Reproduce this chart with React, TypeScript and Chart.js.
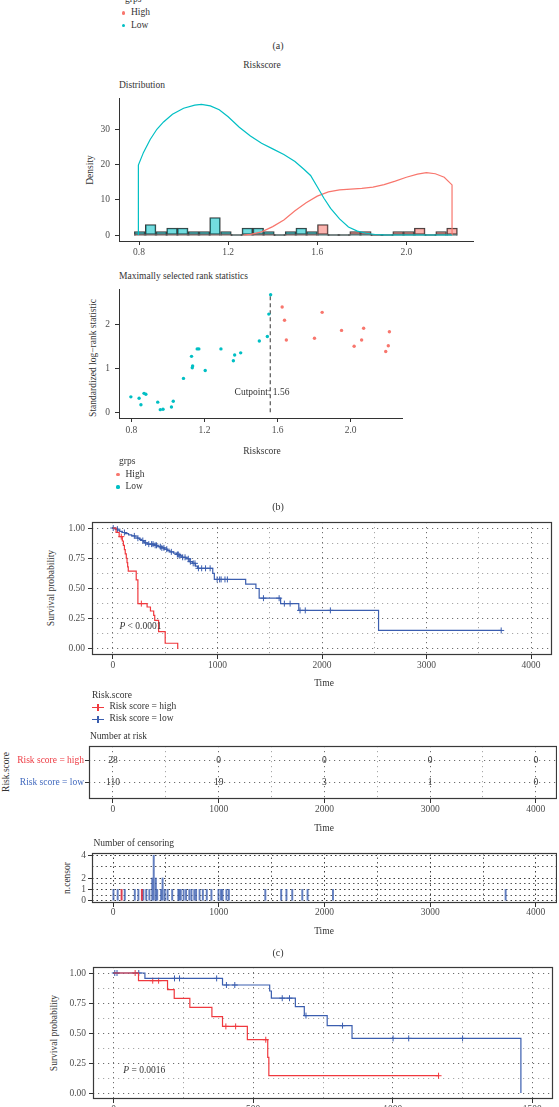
import React, { useEffect, useRef } from "react";
import { Chart, registerables } from "chart.js";

Chart.register(...registerables);

const FONT = "'Liberation Serif', 'DejaVu Serif', 'Times New Roman', serif";
const TICK = "#4d4d4d";
const INK = "#333333";
const CYAN = "#00BFC4";
const SALMON = "#F8766D";
const KM_RED = "#F0393E";
const KM_BLUE = "#3B5EAF";
const LBL_RED = "#EE3B43";
const LBL_BLUE = "#4169BE";

// ---------- (a) Distribution ----------
const binCenters = [0.803, 0.852, 0.900, 0.948, 0.996, 1.045, 1.093, 1.141, 1.190, 1.238, 1.286, 1.335, 1.383, 1.431, 1.480, 1.528, 1.576, 1.625, 1.673, 1.721, 1.770, 1.818, 1.866, 1.915, 1.963, 2.011, 2.060, 2.108, 2.156, 2.205];
const lowCounts = [1, 3, 1, 2, 2, 1, 1, 5, 1, 0, 2, 2, 1, 0, 1, 2, 1, 0, 0, 0, 0, 0, 0, 0, 0, 0, 0, 0, 0, 0];
const highCounts = [0, 0, 0, 0, 0, 0, 0, 0, 0, 0, 0, 0, 0, 0, 0, 0, 0, 3, 0, 0, 1, 1, 0, 0, 1, 1, 2, 0, 1, 2];
const lowDensX = [0.797, 0.797, 0.82, 0.85, 0.88, 0.91, 0.95, 1.0, 1.05, 1.08, 1.12, 1.16, 1.2, 1.25, 1.3, 1.35, 1.4, 1.45, 1.5, 1.54, 1.57, 1.6, 1.63, 1.66, 1.7, 1.74, 1.78, 1.82, 1.86, 1.9, 1.95, 2.205];
const lowDensY = [0, 20, 23.6, 27.3, 30.2, 32.3, 34.5, 36.2, 37.1, 37.3, 36.9, 35.8, 33.8, 30.8, 28.3, 26.2, 24.6, 23.0, 21.0, 18.8, 17.0, 13.8, 10.5, 7.6, 4.6, 2.3, 1.1, 0.5, 0.15, 0.03, 0, 0];
const highDensX = [1.27, 1.3, 1.35, 1.4, 1.45, 1.5, 1.55, 1.6, 1.65, 1.7, 1.75, 1.8, 1.85, 1.9, 1.95, 2.0, 2.05, 2.09, 2.13, 2.17, 2.205, 2.205];
const highDensY = [0, 0.2, 0.9, 2.4, 4.3, 6.9, 9.2, 11.1, 12.3, 12.9, 13.1, 13.3, 13.7, 14.4, 15.4, 16.5, 17.4, 17.8, 17.5, 16.5, 14.3, 0];
const distXTicks = [0.8, 1.2, 1.6, 2.0];
const distYTicks = [0, 10, 20, 30];

// ---------- (b) Maximally selected rank statistics ----------
const lowScore = [0.797, 0.842, 0.852, 0.869, 0.879, 0.944, 0.958, 0.973, 1.019, 1.029, 1.085, 1.129, 1.133, 1.135, 1.16, 1.169, 1.204, 1.29, 1.358, 1.365, 1.398, 1.5, 1.544, 1.552, 1.562];
const lowStat = [0.35, 0.32, 0.17, 0.43, 0.41, 0.23, 0.06, 0.07, 0.12, 0.25, 0.77, 1.27, 1.01, 1.05, 1.44, 1.44, 0.95, 1.44, 1.17, 1.3, 1.35, 1.62, 1.72, 2.23, 2.67];
const highScore = [1.625, 1.638, 1.648, 1.802, 1.844, 1.95, 2.019, 2.06, 2.071, 2.192, 2.206, 2.212];
const highStat = [2.39, 2.09, 1.64, 1.68, 2.27, 1.86, 1.5, 1.64, 1.91, 1.38, 1.51, 1.83];
const cutpoint = 1.56;
const rankXTicks = [0.8, 1.2, 1.6, 2.0];
const rankYTicks = [0, 1, 2];

// ---------- (c) Kaplan-Meier, training ----------
const highTimes = [0, 30, 60, 90, 100, 110, 118, 128, 135, 141, 147, 223, 239, 327, 359, 390, 400, 437, 500, 620];
const highSurv = [1, 0.964, 0.929, 0.893, 0.857, 0.821, 0.786, 0.75, 0.714, 0.679, 0.643, 0.571, 0.375, 0.347, 0.314, 0.278, 0.236, 0.144, 0.047, 0];
const highEnd = 620;
const lowTimes = [0, 25, 45, 65, 90, 120, 150, 180, 210, 235, 255, 275, 290, 300, 330, 400, 430, 460, 490, 520, 545, 580, 610, 640, 660, 700, 730, 760, 790, 810, 955, 970, 1270, 1368, 1399, 1604, 1778, 2541];
const lowSurv = [1, 0.991, 0.982, 0.972, 0.963, 0.954, 0.944, 0.935, 0.926, 0.916, 0.907, 0.897, 0.887, 0.877, 0.867, 0.857, 0.846, 0.836, 0.825, 0.814, 0.803, 0.792, 0.781, 0.77, 0.758, 0.746, 0.722, 0.708, 0.685, 0.667, 0.625, 0.575, 0.536, 0.5, 0.42, 0.375, 0.319, 0.153];
const lowEnd = 3714;
const highCensorT = [80, 272];
const highCensorN = [1, 1];
const lowCensorT = [3, 43, 110, 205, 239, 286, 313, 343, 370, 384, 404, 417, 454, 468, 488, 515, 559, 617, 626, 640, 667, 690, 721, 741, 768, 785, 818, 849, 886, 930, 997, 1021, 1035, 1072, 1095, 1440, 1590, 1640, 1695, 1790, 1840, 2080, 3714];
const lowCensorN = [1, 1, 1, 1, 1, 1, 1, 1, 2, 4, 2, 1, 1, 2, 1, 1, 1, 1, 1, 1, 1, 1, 1, 1, 1, 1, 1, 1, 1, 1, 1, 1, 1, 1, 1, 1, 1, 1, 1, 1, 1, 1, 1];
const kmTimeTicks = [0, 500, 1000, 1500, 2000, 2500, 3000, 3500, 4000];
const kmSurvTicks = [0, 0.125, 0.25, 0.375, 0.5, 0.625, 0.75, 0.875, 1];
const riskTimes = [0, 1000, 2000, 3000, 4000];
const riskHigh = [28, 0, 0, 0, 0];
const riskLow = [110, 19, 3, 1, 0];
const censorYTicks = [0, 0.5, 1, 1.5, 2, 3, 4];
const censorYLabels = [0, 1, 2, 4];

// ---------- (d) Kaplan-Meier, validation ----------
const highTimesC = [0, 89, 193, 217, 273, 352, 390, 479, 552, 556];
const highSurvC = [1, 0.936, 0.861, 0.789, 0.714, 0.637, 0.555, 0.444, 0.297, 0.144];
const highEndC = 1164;
const highCensorC = [77, 140, 161, 402, 437, 545, 1164];
const lowTimesC = [0, 112, 390, 559, 565, 651, 683, 765, 854, 1459];
const lowSurvC = [1, 0.955, 0.9, 0.85, 0.79, 0.72, 0.645, 0.561, 0.455, 0];
const lowEndC = 1459;
const lowCensorC = [4, 12, 90, 218, 236, 369, 404, 434, 604, 630, 689, 820, 1001, 1057, 1250];
const kmTimeTicksC = [0, 250, 500, 750, 1000, 1250, 1500];

// ---------- helpers ----------
const zip = (xs: number[], ys: number[]) => xs.map((x, i) => ({ x, y: ys[i] }));
const survAt = (times: number[], surv: number[], t: number) => {
  let s = surv[0];
  for (let i = 0; i < times.length; i++) if (times[i] <= t) s = surv[i];
  return s;
};
const kmPoints = (times: number[], surv: number[], end: number) => {
  const pts = zip(times, surv);
  if (end > times[times.length - 1]) pts.push({ x: end, y: surv[surv.length - 1] });
  return pts;
};
const censorPoints = (ct: number[], times: number[], surv: number[]) => ct.map((t) => ({ x: t, y: survAt(times, surv, t) }));
const setTicks = (vals: number[]) => (scale: any) => {
  scale.ticks = vals.map((v) => ({ value: v }));
};
const fix = (size: number) => (scale: any) => {
  if (scale.isHorizontal()) scale.height = size;
  else scale.width = size;
  scale.paddingLeft = 0;
  scale.paddingRight = 0;
  scale.paddingTop = 0;
  scale.paddingBottom = 0;
};
const tickFont = { family: FONT, size: 9.5 };
const near = (a: number, b: number) => Math.abs(a - b) < 1e-6;
const isMult = (v: number, step: number) => near(v / step, Math.round(v / step));

const baseOptions = (scales: any) => ({
  responsive: false,
  animation: false,
  devicePixelRatio: 1,
  events: [],
  layout: { padding: { top: 8, right: 0, bottom: 0, left: 0 } },
  plugins: { legend: { display: false }, tooltip: { enabled: false }, title: { display: false } },
  scales,
});

const boxPlugin = {
  id: "panelBox",
  afterDraw(chart: any) {
    const { left, top, right, bottom } = chart.chartArea;
    const ctx = chart.ctx;
    ctx.save();
    ctx.strokeStyle = "#3a3a3a";
    ctx.lineWidth = 1.2;
    ctx.strokeRect(left + 0.5, top + 0.5, right - left - 1, bottom - top - 1);
    ctx.restore();
  },
};

const riskTextPlugin = {
  id: "riskText",
  afterDatasetsDraw(chart: any) {
    const ctx = chart.ctx;
    ctx.save();
    ctx.font = `9.5px ${FONT}`;
    ctx.fillStyle = "#333";
    ctx.textAlign = "center";
    ctx.textBaseline = "middle";
    chart.data.datasets.forEach((ds: any, di: number) => {
      const meta = chart.getDatasetMeta(di);
      meta.data.forEach((el: any, i: number) => {
        ctx.fillText(String(ds.numbers[i]), el.x, el.y);
      });
    });
    ctx.restore();
  },
};

// classic axis (left/bottom lines, no grid)
const classicAxis = (min: number, max: number, ticks: number[], fmt: (v: number) => string, size: number, pad: number) => ({
  type: "linear",
  min,
  max,
  offset: false,
  afterBuildTicks: setTicks(ticks),
  afterFit: fix(size),
  ticks: { callback: (v: number) => fmt(v), font: tickFont, color: TICK, padding: pad, maxRotation: 0, autoSkip: false },
  grid: { drawOnChartArea: false, drawTicks: true, tickLength: 4, tickColor: INK, color: INK, offset: false },
  border: { display: true, color: INK, width: 1 },
});

// dotted grid axis for survival panels
const dottedAxis = (
  min: number,
  max: number,
  ticks: number[],
  isMajor: (v: number) => boolean,
  fmt: (v: number) => string,
  size: number,
  pad: number,
  majorColor: string,
  minorColor: string,
  dash: number[]
) => ({
  type: "linear",
  min,
  max,
  offset: false,
  afterBuildTicks: setTicks(ticks),
  afterFit: fix(size),
  ticks: {
    callback: (v: number) => (isMajor(v) ? fmt(v) : ""),
    font: tickFont,
    color: TICK,
    padding: pad,
    maxRotation: 0,
    autoSkip: false,
  },
  grid: {
    drawOnChartArea: true,
    drawTicks: true,
    tickLength: 4,
    offset: false,
    lineWidth: 1,
    color: (c: any) => (c.tick && isMajor(c.tick.value) ? majorColor : minorColor),
    tickColor: (c: any) => (c.tick && isMajor(c.tick.value) ? INK : "rgba(0,0,0,0)"),
  },
  border: { display: false, dash },
});

function ChartCanvas({ left, top, width, height, make }: any) {
  const ref = useRef<HTMLCanvasElement>(null);
  useEffect(() => {
    const chart = new Chart(ref.current as HTMLCanvasElement, make());
    return () => chart.destroy();
  }, []);
  return <canvas ref={ref} width={width} height={height} style={{ position: "absolute", left, top, width, height }} />;
}

const Txt = ({ x, y, children, align = "left", size = 9.5, color = "#333", rotate = false, style = {} }: any) => {
  let transform = align === "center" ? "translate(-50%,-50%)" : align === "right" ? "translate(-100%,-50%)" : "translate(0,-50%)";
  if (rotate) transform = "translate(-50%,-50%) rotate(-90deg)";
  return (
    <div style={{ position: "absolute", left: x, top: y, transform, fontSize: size, lineHeight: 1, color, whiteSpace: "nowrap", ...style }}>
      {children}
    </div>
  );
};

const Dot = ({ x, y, color }: any) => (
  <div style={{ position: "absolute", left: x - 1.6, top: y - 1.6, width: 3.2, height: 3.2, borderRadius: "50%", background: color }} />
);

const KmKey = ({ x, y, color }: any) => (
  <div style={{ position: "absolute", left: x, top: y, width: 12, height: 0 }}>
    <div style={{ position: "absolute", left: 0, top: -0.6, width: 12, height: 1.2, background: color }} />
    <div style={{ position: "absolute", left: 5.4, top: -3.5, width: 1.2, height: 7, background: color }} />
  </div>
);

// ---------- chart factories ----------
const histBar = (counts: number[], fill: string) => ({
  type: "bar",
  data: zip(binCenters, counts),
  backgroundColor: fill,
  borderColor: "#3a3a3a",
  borderWidth: 1,
  borderSkipped: false,
  minBarLength: 1,
  barPercentage: 1,
  categoryPercentage: 1,
  grouped: false,
  order: 1,
});

const makeDistribution = () => ({
  type: "bar",
  data: {
    datasets: [
      { type: "line", data: zip(lowDensX, lowDensY), borderColor: CYAN, borderWidth: 1.2, pointRadius: 0, tension: 0, order: 0 },
      { type: "line", data: zip(highDensX, highDensY), borderColor: SALMON, borderWidth: 1.2, pointRadius: 0, tension: 0, order: 0 },
      histBar(lowCounts, "rgba(0,191,196,0.55)"),
      histBar(highCounts, "rgba(248,118,109,0.55)"),
    ],
  },
  options: baseOptions({
    x: classicAxis(0.71, 2.3036, distXTicks, (v) => v.toFixed(1), 24, 2),
    y: classicAxis(-1.714, 39.14, distYTicks, (v) => String(v), 40, 5),
  }),
});

const makeRank = () => ({
  type: "scatter",
  data: {
    datasets: [
      { data: zip(lowScore, lowStat), backgroundColor: CYAN, pointRadius: 1.7, pointBorderWidth: 0, borderWidth: 0 },
      { data: zip(highScore, highStat), backgroundColor: SALMON, pointRadius: 1.7, pointBorderWidth: 0, borderWidth: 0 },
      {
        type: "line",
        data: [
          { x: cutpoint, y: 0 },
          { x: cutpoint, y: Math.max(...lowStat, ...highStat) },
        ],
        borderColor: "#555",
        borderDash: [4, 3],
        borderWidth: 1.2,
        pointRadius: 0,
      },
    ],
  },
  options: baseOptions({
    x: classicAxis(0.732, 2.281, rankXTicks, (v) => v.toFixed(1), 24, 3),
    y: classicAxis(-0.13, 2.8, rankYTicks, (v) => String(v), 40, 5),
  }),
});

const kmDatasets = (hT: number[], hS: number[], hE: number, hC: number[], lT: number[], lS: number[], lE: number, lC: number[]) => [
  { type: "line", data: kmPoints(hT, hS, hE), stepped: "before", borderColor: KM_RED, borderWidth: 1.2, pointRadius: 0, fill: false },
  { type: "line", data: kmPoints(lT, lS, lE), stepped: "before", borderColor: KM_BLUE, borderWidth: 1.2, pointRadius: 0, fill: false },
  { type: "scatter", data: censorPoints(hC, hT, hS), pointStyle: "cross", pointRadius: 3, borderColor: KM_RED, borderWidth: 1, showLine: false },
  { type: "scatter", data: censorPoints(lC, lT, lS), pointStyle: "cross", pointRadius: 3, borderColor: KM_BLUE, borderWidth: 1, showLine: false },
];

const GRID_MAJ = "#6e6e6e";
const GRID_MIN = "#a8a8a8";
const DOTS = [1.2, 3.8];

const makeKmB = () => ({
  type: "line",
  data: { datasets: kmDatasets(highTimes, highSurv, highEnd, highCensorT, lowTimes, lowSurv, lowEnd, lowCensorT) },
  options: baseOptions({
    x: dottedAxis(-200, 4200, kmTimeTicks, (v) => isMult(v, 1000), (v) => String(v), 24, 1, GRID_MAJ, GRID_MIN, DOTS),
    y: dottedAxis(-0.05, 1.05, kmSurvTicks, (v) => isMult(v, 0.25), (v) => v.toFixed(2), 60, 3, GRID_MAJ, GRID_MIN, DOTS),
  }),
  plugins: [boxPlugin],
});

const makeRisk = () => {
  const y: any = dottedAxis(0.26, 2.67, [1, 2], () => true, (v) => (v === 2 ? "Risk score = high" : "Risk score = low"), 80, 1, GRID_MAJ, GRID_MIN, DOTS);
  y.ticks.color = (c: any) => (c.tick && c.tick.value === 2 ? LBL_RED : LBL_BLUE);
  return {
    type: "scatter",
    data: {
      datasets: [
        { data: riskTimes.map((t) => ({ x: t, y: 2 })), numbers: riskHigh, pointRadius: 0 },
        { data: riskTimes.map((t) => ({ x: t, y: 1 })), numbers: riskLow, pointRadius: 0 },
      ],
    },
    options: baseOptions({
      x: dottedAxis(-227, 4200, kmTimeTicks, (v) => isMult(v, 1000), (v) => String(v), 24, 1, GRID_MAJ, GRID_MIN, DOTS),
      y,
    }),
    plugins: [riskTextPlugin, boxPlugin],
  };
};

const makeCensor = () => ({
  type: "bar",
  data: {
    datasets: [
      { data: zip(highCensorT, highCensorN), backgroundColor: "rgba(220,40,60,0.9)", barThickness: 1.3, grouped: false, order: 0 },
      { data: zip(lowCensorT, lowCensorN), backgroundColor: "rgba(59,94,175,0.8)", barThickness: 1.3, grouped: false, order: 1 },
    ],
  },
  options: baseOptions({
    x: dottedAxis(-200, 4200, kmTimeTicks, (v) => isMult(v, 1000), (v) => String(v), 24, 0, "#3a3a3a", "#555", [1.5, 3]),
    y: dottedAxis(-0.2, 4.2, censorYTicks, (v) => censorYLabels.some((l) => near(l, v)), (v) => String(v), 30, 2, "#3a3a3a", "#555", [1.5, 3]),
  }),
  plugins: [boxPlugin],
});

const makeKmC = () => ({
  type: "line",
  data: { datasets: kmDatasets(highTimesC, highSurvC, highEndC, highCensorC, lowTimesC, lowSurvC, lowEndC, lowCensorC) },
  options: baseOptions({
    x: dottedAxis(-74, 1574, kmTimeTicksC, (v) => isMult(v, 500), (v) => String(v), 24, 1, GRID_MAJ, GRID_MIN, DOTS),
    y: dottedAxis(-0.05, 1.05, kmSurvTicks, (v) => isMult(v, 0.25), (v) => v.toFixed(2), 60, 3, GRID_MAJ, GRID_MIN, DOTS),
  }),
  plugins: [boxPlugin],
});

export default function App() {
  return (
    <div
      style={{
        position: "fixed",
        left: 0,
        top: 0,
        width: 559,
        height: 1107,
        overflow: "hidden",
        background: "#fff",
        fontFamily: FONT,
        color: INK,
      }}
    >
      {/* top legend (a) */}
      <Txt x={125} y={0}>grps</Txt>
      <Dot x={123.4} y={13} color={SALMON} />
      <Txt x={131} y={13}>High</Txt>
      <Dot x={123.4} y={25.5} color={CYAN} />
      <Txt x={131} y={25.5}>Low</Txt>
      <Txt x={278} y={46} align="center" size={10}>(a)</Txt>

      {/* distribution */}
      <Txt x={262} y={66} align="center">Riskscore</Txt>
      <Txt x={119} y={86}>Distribution</Txt>
      <Txt x={91} y={170} rotate>Density</Txt>
      <ChartCanvas left={79} top={90} width={395} height={175} make={makeDistribution} />

      {/* rank statistics */}
      <Txt x={119} y={277}>Maximally selected rank statistics</Txt>
      <Txt x={93.5} y={358} rotate>Standardized log−rank statistic</Txt>
      <ChartCanvas left={79} top={281} width={327} height={161} make={makeRank} />
      <Txt x={262} y={392.5} align="center">Cutpoint: 1.56</Txt>
      <Txt x={262} y={452} align="center">Riskscore</Txt>
      <Txt x={119} y={462}>grps</Txt>
      <Dot x={118} y={474.7} color={SALMON} />
      <Txt x={125.5} y={474.7}>High</Txt>
      <Dot x={118} y={487} color={CYAN} />
      <Txt x={125.5} y={487}>Low</Txt>
      <Txt x={278} y={507} align="center" size={10}>(b)</Txt>

      {/* KM (training) */}
      <Txt x={52} y={588} rotate>Survival probability</Txt>
      <ChartCanvas left={32} top={514} width={525} height={165} make={makeKmB} />
      <Txt x={119.4} y={626.7}>
        <i>P</i> &lt; 0.0001
      </Txt>
      <Txt x={324} y={684.3} align="center">Time</Txt>
      <Txt x={92} y={696}>Risk.score</Txt>
      <KmKey x={92} y={707.3} color={KM_RED} />
      <Txt x={109.4} y={707.3}>Risk score = high</Txt>
      <KmKey x={92} y={719.3} color={KM_BLUE} />
      <Txt x={109.4} y={719.3}>Risk score = low</Txt>

      {/* number at risk */}
      <Txt x={90} y={737.3}>Number at risk</Txt>
      <Txt x={7} y={772} rotate>Risk.score</Txt>
      <ChartCanvas left={9} top={738} width={548} height={85} make={makeRisk} />
      <Txt x={324} y={829.3} align="center">Time</Txt>

      {/* number of censoring */}
      <Txt x={93.4} y={844}>Number of censoring</Txt>
      <Txt x={67.7} y={878} rotate>n.censor</Txt>
      <ChartCanvas left={62} top={845} width={495} height={82} make={makeCensor} />
      <Txt x={324} y={932.3} align="center">Time</Txt>
      <Txt x={278} y={953.3} align="center" size={10}>(c)</Txt>

      {/* KM (validation) */}
      <Txt x={55} y={1033} rotate>Survival probability</Txt>
      <ChartCanvas left={33} top={959} width={525} height={164} make={makeKmC} />
      <Txt x={123.3} y={1071}>
        <i>P</i> = 0.0016
      </Txt>
    </div>
  );
}
